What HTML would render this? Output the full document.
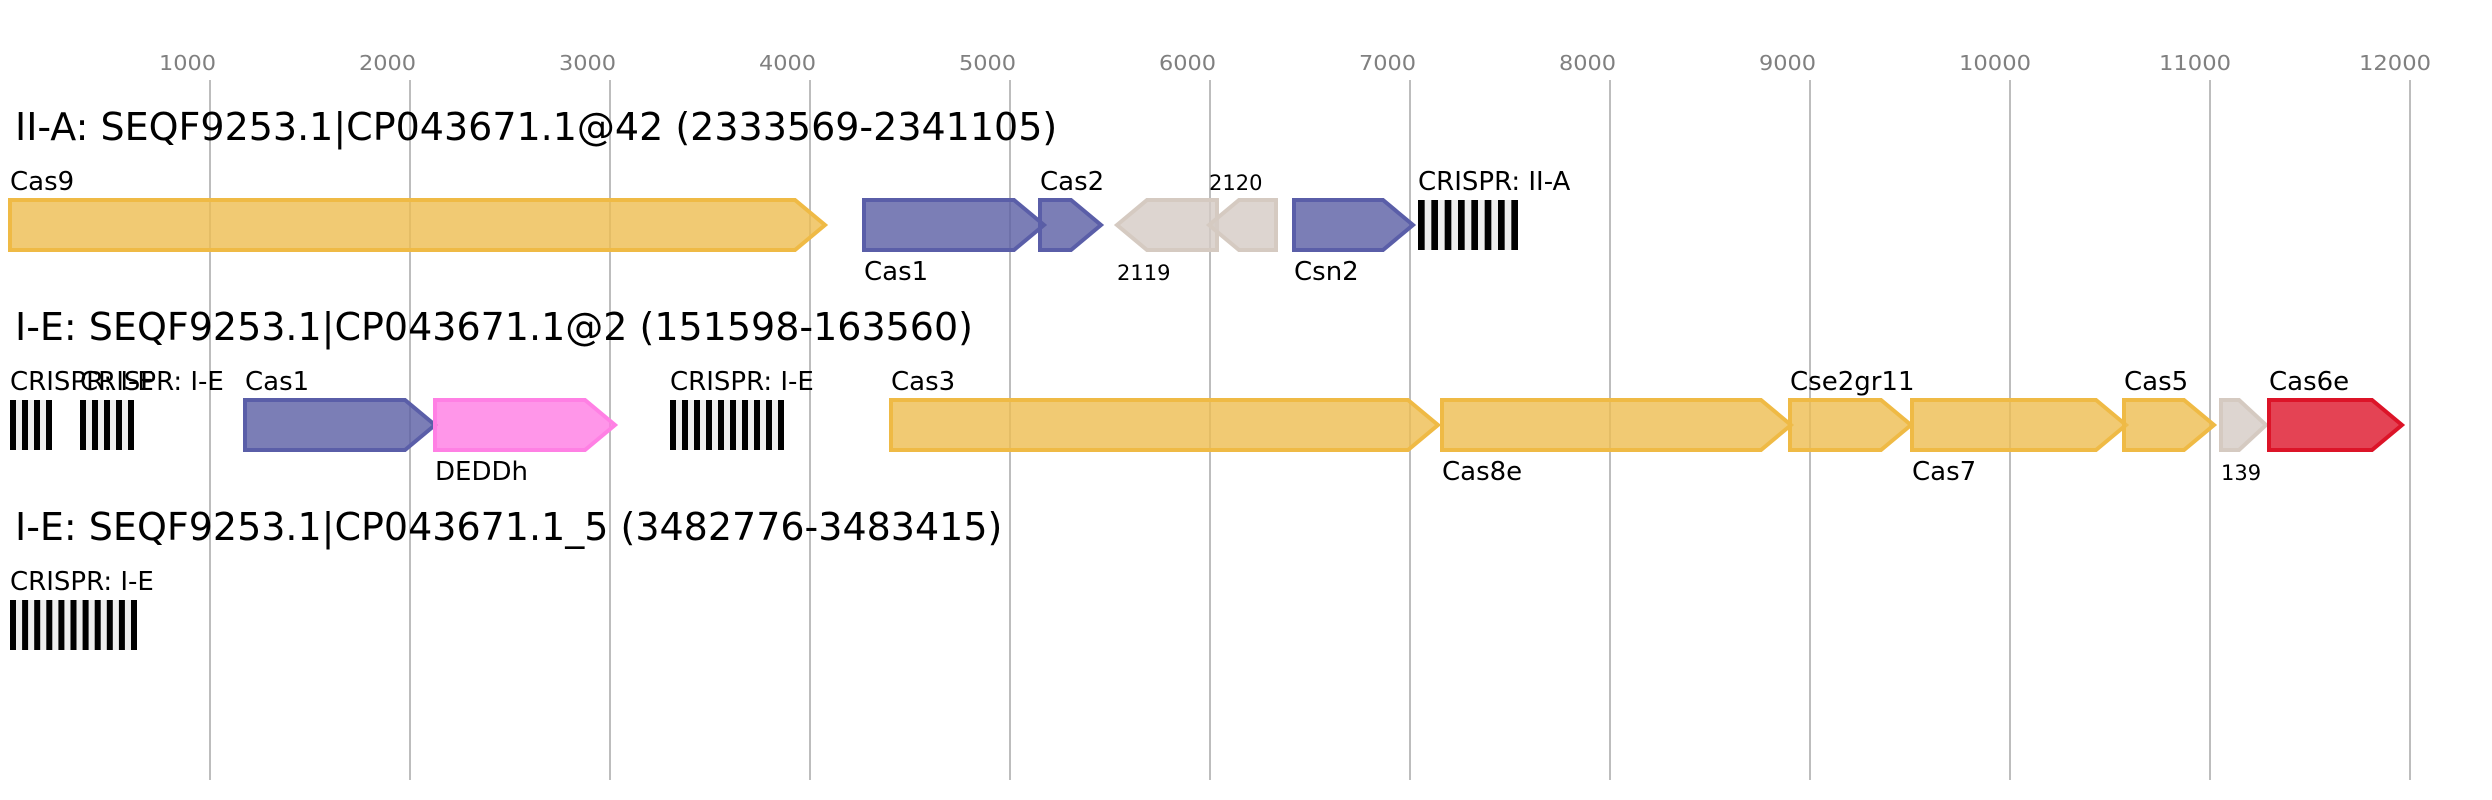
<!DOCTYPE html>
<html>
<head>
<meta charset="utf-8">
<style>
  html,body{margin:0;padding:0;background:#ffffff;}
  svg{display:block;}
  text{font-family:"DejaVu Sans","Liberation Sans",sans-serif;}
  .tick{fill:#808080;font-size:20.5px;}
  .title{fill:#000;font-size:38px;}
  .lab{fill:#000;font-size:26px;}
  .sm{fill:#000;font-size:21px;}
  .or{fill:#eebd50;fill-opacity:0.8;stroke:#efba45;stroke-width:4;}
  .pu{fill:#5a5ea4;fill-opacity:0.8;stroke:#5a5ea8;stroke-width:4;}
  .pk{fill:#ff7ce3;fill-opacity:0.8;stroke:#ff80e4;stroke-width:4;}
  .be{fill:#d4cac4;fill-opacity:0.8;stroke:#d5cac1;stroke-width:4;}
  .rd{fill:#dd1429;fill-opacity:0.8;stroke:#dc1428;stroke-width:4;}
</style>
</head>
<body>
<svg width="2492" height="800" viewBox="0 0 2492 800" xmlns="http://www.w3.org/2000/svg">
  <rect x="0" y="0" width="2492" height="800" fill="#ffffff"/>

  <!-- grid lines -->
  <g stroke="#bdbdbd" stroke-width="2">
    <line x1="210" y1="80" x2="210" y2="780"/>
    <line x1="410" y1="80" x2="410" y2="780"/>
    <line x1="610" y1="80" x2="610" y2="780"/>
    <line x1="810" y1="80" x2="810" y2="780"/>
    <line x1="1010" y1="80" x2="1010" y2="780"/>
    <line x1="1210" y1="80" x2="1210" y2="780"/>
    <line x1="1410" y1="80" x2="1410" y2="780"/>
    <line x1="1610" y1="80" x2="1610" y2="780"/>
    <line x1="1810" y1="80" x2="1810" y2="780"/>
    <line x1="2010" y1="80" x2="2010" y2="780"/>
    <line x1="2210" y1="80" x2="2210" y2="780"/>
    <line x1="2410" y1="80" x2="2410" y2="780"/>
  </g>

  <!-- tick labels -->
  <g class="tick">
    <text x="159" y="70" textLength="57" lengthAdjust="spacingAndGlyphs">1000</text>
    <text x="359" y="70" textLength="57" lengthAdjust="spacingAndGlyphs">2000</text>
    <text x="559" y="70" textLength="57" lengthAdjust="spacingAndGlyphs">3000</text>
    <text x="759" y="70" textLength="57" lengthAdjust="spacingAndGlyphs">4000</text>
    <text x="959" y="70" textLength="57" lengthAdjust="spacingAndGlyphs">5000</text>
    <text x="1159" y="70" textLength="57" lengthAdjust="spacingAndGlyphs">6000</text>
    <text x="1359" y="70" textLength="57" lengthAdjust="spacingAndGlyphs">7000</text>
    <text x="1559" y="70" textLength="57" lengthAdjust="spacingAndGlyphs">8000</text>
    <text x="1759" y="70" textLength="57" lengthAdjust="spacingAndGlyphs">9000</text>
    <text x="1959" y="70" textLength="72" lengthAdjust="spacingAndGlyphs">10000</text>
    <text x="2159" y="70" textLength="72" lengthAdjust="spacingAndGlyphs">11000</text>
    <text x="2359" y="70" textLength="72" lengthAdjust="spacingAndGlyphs">12000</text>
  </g>

  <!-- ============ Row 1 ============ -->
  <text class="title" x="15" y="140">II-A: SEQF9253.1|CP043671.1@42 (2333569-2341105)</text>

  <polygon class="or" points="10,200 795,200 825,225 795,250 10,250"/>
  <polygon class="pu" points="864,200 1014,200 1044,225 1014,250 864,250"/>
  <polygon class="pu" points="1040,200 1071,200 1101,225 1071,250 1040,250"/>
  <polygon class="be" points="1117,225 1147,200 1217,200 1217,250 1147,250"/>
  <polygon class="be" points="1209,225 1239,200 1276,200 1276,250 1239,250"/>
  <polygon class="pu" points="1294,200 1383,200 1413,225 1383,250 1294,250"/>

  <!-- CRISPR II-A array -->
  <rect x="1418" y="200" width="100" height="50" fill="#eeeeee"/>
  <g fill="#000">
    <rect x="1418" y="200" width="6.67" height="50"/>
    <rect x="1431.33" y="200" width="6.67" height="50"/>
    <rect x="1444.67" y="200" width="6.67" height="50"/>
    <rect x="1458" y="200" width="6.67" height="50"/>
    <rect x="1471.33" y="200" width="6.67" height="50"/>
    <rect x="1484.67" y="200" width="6.67" height="50"/>
    <rect x="1498" y="200" width="6.67" height="50"/>
    <rect x="1511.33" y="200" width="6.67" height="50"/>
  </g>

  <text class="lab" x="10" y="190">Cas9</text>
  <text class="lab" x="864" y="280">Cas1</text>
  <text class="lab" x="1040" y="190">Cas2</text>
  <text class="sm" x="1117" y="280">2119</text>
  <text class="sm" x="1209" y="190">2120</text>
  <text class="lab" x="1294" y="280">Csn2</text>
  <text class="lab" x="1418" y="190">CRISPR: II-A</text>

  <!-- ============ Row 2 ============ -->
  <text class="title" x="15" y="340">I-E: SEQF9253.1|CP043671.1@2 (151598-163560)</text>

  <!-- CRISPR arrays -->
  <rect x="10" y="400" width="42" height="50" fill="#eeeeee"/>
  <rect x="80" y="400" width="54" height="50" fill="#eeeeee"/>
  <rect x="670" y="400" width="114" height="50" fill="#eeeeee"/>
  <g fill="#000">
    <rect x="10" y="400" width="6" height="50"/>
    <rect x="22" y="400" width="6" height="50"/>
    <rect x="34" y="400" width="6" height="50"/>
    <rect x="46" y="400" width="6" height="50"/>

    <rect x="80" y="400" width="6" height="50"/>
    <rect x="92" y="400" width="6" height="50"/>
    <rect x="104" y="400" width="6" height="50"/>
    <rect x="116" y="400" width="6" height="50"/>
    <rect x="128" y="400" width="6" height="50"/>

    <rect x="670" y="400" width="6" height="50"/>
    <rect x="682" y="400" width="6" height="50"/>
    <rect x="694" y="400" width="6" height="50"/>
    <rect x="706" y="400" width="6" height="50"/>
    <rect x="718" y="400" width="6" height="50"/>
    <rect x="730" y="400" width="6" height="50"/>
    <rect x="742" y="400" width="6" height="50"/>
    <rect x="754" y="400" width="6" height="50"/>
    <rect x="766" y="400" width="6" height="50"/>
    <rect x="778" y="400" width="6" height="50"/>
  </g>

  <polygon class="pu" points="245,400 405,400 435,425 405,450 245,450"/>
  <polygon class="pk" points="435,400 585,400 615,425 585,450 435,450"/>
  <polygon class="or" points="891,400 1408,400 1438,425 1408,450 891,450"/>
  <polygon class="or" points="1442,400 1761,400 1791,425 1761,450 1442,450"/>
  <polygon class="or" points="1790,400 1881,400 1911,425 1881,450 1790,450"/>
  <polygon class="or" points="1912,400 2096,400 2126,425 2096,450 1912,450"/>
  <polygon class="or" points="2124,400 2184,400 2214,425 2184,450 2124,450"/>
  <polygon class="be" points="2221,400 2239,400 2266,425 2239,450 2221,450"/>
  <polygon class="rd" points="2269,400 2372,400 2402,425 2372,450 2269,450"/>

  <text class="lab" x="10" y="390">CRISPR: I-E</text>
  <text class="lab" x="80" y="390">CRISPR: I-E</text>
  <text class="lab" x="245" y="390">Cas1</text>
  <text class="lab" x="435" y="480">DEDDh</text>
  <text class="lab" x="670" y="390">CRISPR: I-E</text>
  <text class="lab" x="891" y="390">Cas3</text>
  <text class="lab" x="1442" y="480">Cas8e</text>
  <text class="lab" x="1790" y="390">Cse2gr11</text>
  <text class="lab" x="1912" y="480">Cas7</text>
  <text class="lab" x="2124" y="390">Cas5</text>
  <text class="sm" x="2221" y="480">139</text>
  <text class="lab" x="2269" y="390">Cas6e</text>

  <!-- ============ Row 3 ============ -->
  <text class="title" x="15" y="540">I-E: SEQF9253.1|CP043671.1_5 (3482776-3483415)</text>

  <rect x="10" y="600" width="127" height="50" fill="#eeeeee"/>
  <g fill="#000">
    <rect x="10" y="600" width="6" height="50"/>
    <rect x="22.1" y="600" width="6" height="50"/>
    <rect x="34.2" y="600" width="6" height="50"/>
    <rect x="46.3" y="600" width="6" height="50"/>
    <rect x="58.4" y="600" width="6" height="50"/>
    <rect x="70.5" y="600" width="6" height="50"/>
    <rect x="82.6" y="600" width="6" height="50"/>
    <rect x="94.7" y="600" width="6" height="50"/>
    <rect x="106.8" y="600" width="6" height="50"/>
    <rect x="118.9" y="600" width="6" height="50"/>
    <rect x="131" y="600" width="6" height="50"/>
  </g>
  <text class="lab" x="10" y="590">CRISPR: I-E</text>
</svg>
</body>
</html>
